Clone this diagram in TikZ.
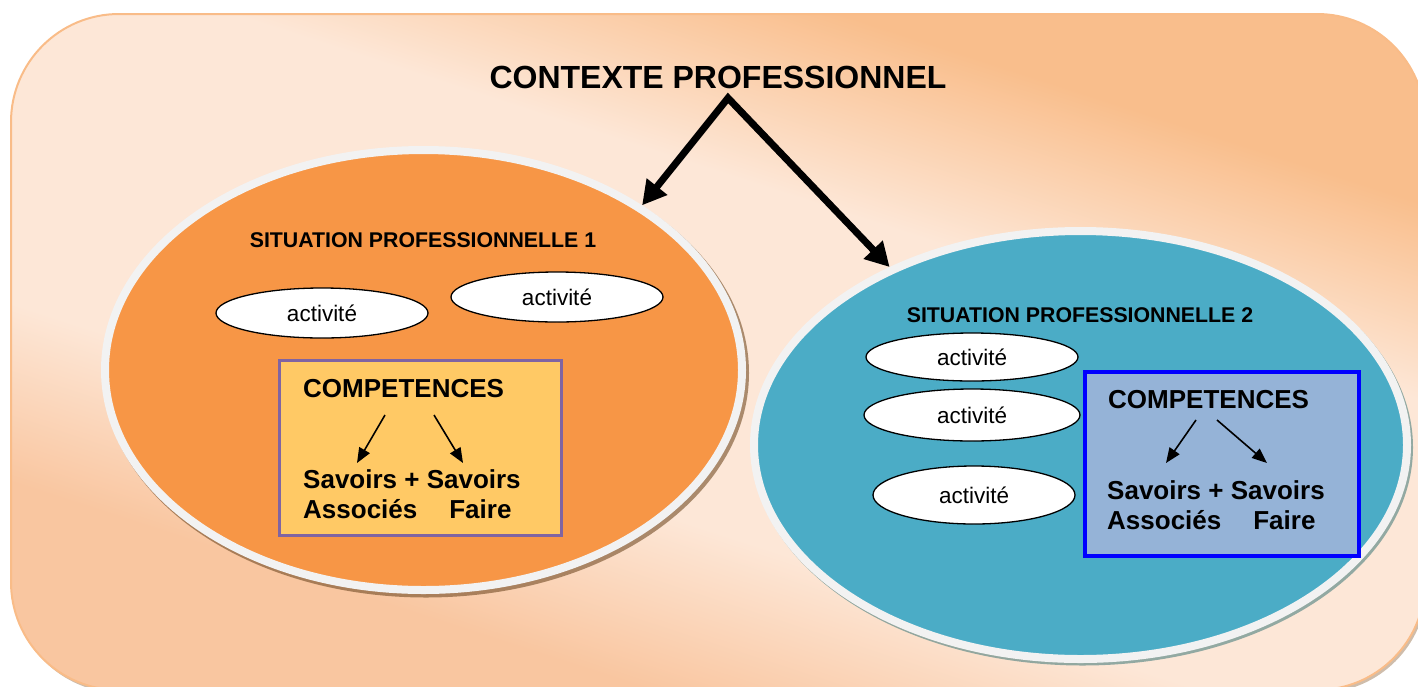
\documentclass[tikz,border=0pt]{standalone}
\usepackage{fontspec}
\setmainfont{Liberation Sans}
\usetikzlibrary{arrows.meta,shapes.geometric}
\definecolor{bgdark}{HTML}{F9BE8C}
\definecolor{bgmid}{HTML}{F9C6A0}
\definecolor{bglight}{HTML}{FDE7D7}
\definecolor{bgline}{HTML}{F9BC88}
\definecolor{sitorange}{HTML}{F79646}
\definecolor{sitteal}{HTML}{4BACC6}
\definecolor{rim}{HTML}{F2F2F2}
\definecolor{compgold}{HTML}{FFC965}
\definecolor{compblue}{HTML}{95B3D7}
\definecolor{compviolet}{HTML}{8064A2}
\pgfdeclareverticalshading{ctxshade}{100bp}{color(0bp)=(bgmid); color(25bp)=(bgmid); color(30bp)=(bgmid); color(40bp)=(bglight); color(60bp)=(bglight); color(71bp)=(bgdark); color(75bp)=(bgdark); color(100bp)=(bgdark)}
\begin{document}
\begin{tikzpicture}[
			x = 1pt, y = -1pt, % pixel grid of the page
			situation/.style = {ellipse, draw=rim, line width=8pt, inner sep=0pt},
			activite/.style = {ellipse, draw=black, line width=1.3pt, fill=white, inner sep=0pt, font=\fontsize{22.5}{26}\selectfont},
			compbox/.style = {rectangle, inner sep=0pt},
			comptext/.style = {inner sep=0pt, font=\bfseries\fontsize{26}{30}\selectfont},
			bigarrow/.style = {line width=7pt, line join=miter, {Triangle[length=24pt,width=25pt]}-{Triangle[length=24pt,width=25pt]}},
			smallarrow/.style = {line width=1.6pt, -{Triangle[length=15pt,width=12pt]}}
			]
			
			\useasboundingbox (0,0) rectangle (1418,686);
			
			% background
			\fill[brown!70!black, opacity=.4, rounded corners=108pt] (13,17) rectangle (1427,693);
			\path[draw=bgline, line width=2pt, shade, shading=ctxshade, shading angle=-18, rounded corners=108pt] (11,14) rectangle (1425,690);
			
			\node[inner sep=0pt, font=\bfseries\fontsize{32}{36}\selectfont, anchor=base] (ctx) at (718,88) {CONTEXTE PROFESSIONNEL};
			
			% situations
			\fill[brown!60!black, opacity=.6] (426,373) ellipse [x radius=323pt, y radius=224.5pt];
			\fill[teal!40!gray, opacity=.6] (1082.5,447.5) ellipse [x radius=330.5pt, y radius=218pt];
			\node[situation, fill=sitorange, minimum width=637pt, minimum height=440pt] (sit1) at (423.5,370) {};
			\node[situation, fill=sitteal, minimum width=653pt, minimum height=428pt] (sit2) at (1080.5,445) {};
			
			\node[inner sep=0pt, font=\bfseries\fontsize{21.3}{24}\selectfont, anchor=base] (lab1) at (423,247) {SITUATION PROFESSIONNELLE 1};
			\node[inner sep=0pt, font=\bfseries\fontsize{21.3}{24}\selectfont, anchor=base] (lab2) at (1080,322) {SITUATION PROFESSIONNELLE 2};
			
			\coordinate (apex) at (728,98);
			\draw[bigarrow] (sit1.37) -- (apex) -- (sit2.137);
			
			% activites
			\node[activite, minimum width=212pt, minimum height=50pt] (act1) at (322,313) {activité};
			\node[activite, minimum width=212pt, minimum height=50pt] (act2) at (557,297) {activité};
			\node[activite, minimum width=212pt, minimum height=48pt] (act3) at (972,357) {activité};
			\node[activite, minimum width=216pt, minimum height=52pt] (act4) at (972,415) {activité};
			\node[activite, minimum width=202pt, minimum height=58pt] (act5) at (974,495) {activité};
			
			% competences
			\node[compbox, draw=compviolet, line width=3pt, fill=compgold, minimum width=282pt, minimum height=175pt] (box1) at (420.5,448) {};
			\node[compbox, draw=blue, line width=4pt, fill=compblue, minimum width=274pt, minimum height=184pt] (box2) at (1222,464) {};
			
			\node[comptext, anchor=base west] (comp1) at (303,397) {COMPETENCES};
			\node[comptext, anchor=base west, align=left] (sav1) at (303,518) {Savoirs + Savoirs\\Associés\hspace{32pt}Faire};
			\node[comptext, anchor=base west] (comp2) at (1108,408) {COMPETENCES};
			\node[comptext, anchor=base west, align=left] (sav2) at (1107,529) {Savoirs + Savoirs\\Associés\hspace{32pt}Faire};
			
			\coordinate (c1l) at (385,415);
			\coordinate (c1r) at (434,415);
			\coordinate (s1l) at (357,463);
			\coordinate (s1r) at (463,463);
			\coordinate (c2l) at (1196,420);
			\coordinate (c2r) at (1217,420);
			\coordinate (s2l) at (1166,463);
			\coordinate (s2r) at (1267,463);
			
			\draw[smallarrow] (c1l) -- (s1l);
			\draw[smallarrow] (c1r) -- (s1r);
			\draw[smallarrow] (c2l) -- (s2l);
			\draw[smallarrow] (c2r) -- (s2r);
			
		\end{tikzpicture}
\end{document}
